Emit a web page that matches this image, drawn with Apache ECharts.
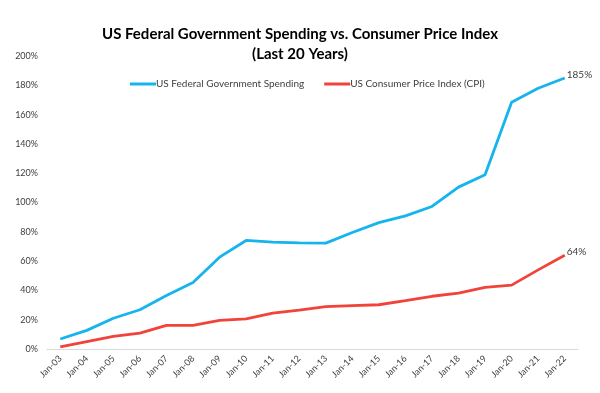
<!DOCTYPE html>
<html>
<head>
<meta charset="utf-8">
<script src="https://cdn.jsdelivr.net/npm/echarts@6/dist/echarts.min.js"></script>
<style>html,body{margin:0;padding:0;background:#fff}#c{width:600px;height:393px}</style>
</head>
<body>
<div id="c"></div>
<script>
const categories = ['Jan-03','Jan-04','Jan-05','Jan-06','Jan-07','Jan-08','Jan-09','Jan-10','Jan-11','Jan-12','Jan-13','Jan-14','Jan-15','Jan-16','Jan-17','Jan-18','Jan-19','Jan-20','Jan-21','Jan-22'];
const spending = [6.8, 12.7, 21.0, 26.8, 36.5, 45.4, 62.7, 74.1, 73.0, 72.4, 72.3, 79.5, 86.3, 90.9, 97.3, 110.5, 118.9, 168.4, 178.0, 185.0];
const cpi = [1.4, 5.0, 8.6, 10.9, 16.1, 16.1, 19.5, 20.6, 24.5, 26.5, 28.9, 29.6, 30.2, 33.0, 36.0, 38.2, 42.0, 43.6, 54.0, 64.0];
const yTicks = [0, 20, 40, 60, 80, 100, 120, 140, 160, 180, 200];
const titleText = 'US Federal Government Spending vs. Consumer Price Index\n(Last 20 Years)';
const seriesNames = ['US Federal Government Spending', 'US Consumer Price Index (CPI)'];

const font = 'Lato, "Liberation Sans", sans-serif';
const endLabel = {
  show: true, distance: 2, offset: [0, -3],
  formatter: (p) => Math.round(p.value) + '%',
  color: '#404040', fontSize: 10, fontFamily: font
};

const chart = echarts.init(document.getElementById('c'), null, { renderer: 'canvas' });
chart.setOption({
  animation: false,
  backgroundColor: '#fff',
  title: {
    text: titleText,
    left: 'center',
    top: 19,
    textStyle: { fontFamily: font, fontWeight: 'bold', fontSize: 15, color: '#000', lineHeight: 20 }
  },
  legend: {
    top: 74,
    left: 125,
    itemGap: 20,
    itemWidth: 26,
    itemHeight: 3,
    icon: 'rect',
    textStyle: { fontFamily: font, fontSize: 10, color: '#404040', padding: [0, 0, 0, -5] },
    data: seriesNames
  },
  grid: { left: 47, right: 22, top: 56, bottom: 44 },
  xAxis: {
    type: 'category',
    data: categories,
    boundaryGap: true,
    axisLine: { lineStyle: { color: '#d9d9d9', width: 1 } },
    axisTick: { show: false },
    axisLabel: { rotate: 45, margin: 8, interval: 0, fontFamily: font, fontSize: 9, color: '#404040' }
  },
  yAxis: {
    type: 'value',
    min: yTicks[0],
    max: yTicks[yTicks.length - 1],
    interval: 20,
    splitLine: { show: false },
    axisLine: { show: false },
    axisTick: { show: false },
    axisLabel: { formatter: '{value}%', fontFamily: font, fontSize: 9, color: '#404040', margin: 9 }
  },
  series: [
    {
      name: seriesNames[0], type: 'line', data: spending,
      showSymbol: false, symbol: 'none',
      endLabel: endLabel,
      lineStyle: { color: '#16b4ec', width: 2.8 }, itemStyle: { color: '#16b4ec' }
    },
    {
      name: seriesNames[1], type: 'line', data: cpi,
      showSymbol: false, symbol: 'none',
      endLabel: endLabel,
      lineStyle: { color: '#f2433a', width: 2.8 }, itemStyle: { color: '#f2433a' }
    }
  ]
});
</script>
</body>
</html>
